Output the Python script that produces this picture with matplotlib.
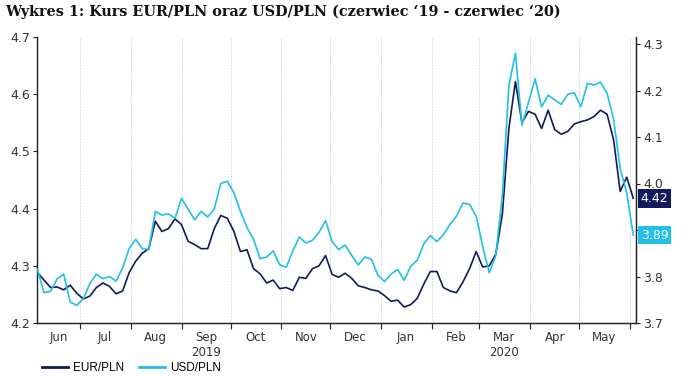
import matplotlib
matplotlib.use("Agg")
import matplotlib.pyplot as plt
import matplotlib.dates as mdates
import matplotlib.transforms as mtransforms
from matplotlib.lines import Line2D
import pandas as pd

# ---------------- data ----------------
start_date = "2019-06-05"
step_days = 4

eur_pln = [4.288, 4.275, 4.262, 4.263, 4.258, 4.266, 4.252, 4.242, 4.247, 4.262,
           4.270, 4.264, 4.251, 4.256, 4.288, 4.308, 4.322, 4.330, 4.378, 4.360,
           4.365, 4.382, 4.372, 4.343, 4.337, 4.330, 4.330, 4.365, 4.388, 4.383,
           4.360, 4.325, 4.328, 4.295, 4.286, 4.270, 4.275, 4.260, 4.262, 4.257,
           4.280, 4.278, 4.295, 4.300, 4.318, 4.285, 4.280, 4.287, 4.278, 4.265,
           4.262, 4.258, 4.256, 4.248, 4.238, 4.240, 4.228, 4.232, 4.243, 4.268,
           4.290, 4.290, 4.262, 4.256, 4.253, 4.272, 4.295, 4.325, 4.298, 4.300,
           4.320, 4.390, 4.540, 4.622, 4.550, 4.570, 4.565, 4.540, 4.572, 4.538,
           4.530, 4.535, 4.548, 4.552, 4.555, 4.561, 4.572, 4.565, 4.520, 4.430,
           4.455, 4.418]

usd_pln = [3.815, 3.765, 3.768, 3.795, 3.805, 3.745, 3.738, 3.752, 3.785, 3.805,
           3.795, 3.800, 3.790, 3.818, 3.860, 3.880, 3.860, 3.858, 3.940, 3.932,
           3.935, 3.925, 3.968, 3.945, 3.922, 3.940, 3.928, 3.945, 4.000, 4.005,
           3.980, 3.940, 3.905, 3.880, 3.838, 3.842, 3.855, 3.825, 3.820, 3.855,
           3.885, 3.872, 3.878, 3.895, 3.920, 3.875, 3.858, 3.868, 3.845, 3.825,
           3.842, 3.837, 3.803, 3.789, 3.805, 3.815, 3.792, 3.822, 3.835, 3.870,
           3.888, 3.875, 3.890, 3.912, 3.930, 3.958, 3.955, 3.930, 3.865, 3.808,
           3.845, 3.975, 4.210, 4.280, 4.125, 4.175, 4.225, 4.165, 4.190, 4.180,
           4.170, 4.192, 4.195, 4.165, 4.215, 4.212, 4.218, 4.194, 4.138, 4.032,
           3.980, 3.889]

month_labels = ["Jun", "Jul", "Aug", "Sep", "Oct", "Nov", "Dec",
                "Jan", "Feb", "Mar", "Apr", "May"]
year_labels = {"Sep": "2019", "Mar": "2020"}
left_ticks = [4.2, 4.3, 4.4, 4.5, 4.6, 4.7]
right_ticks = [3.7, 3.8, 3.9, 4.0, 4.1, 4.2, 4.3]

series_names = ["EUR/PLN", "USD/PLN"]
title = "Wykres 1: Kurs EUR/PLN oraz USD/PLN (czerwiec \u201819 - czerwiec \u201820)"

# ---------------- style ----------------
navy = "#111b5b"
cyan = "#22bfea"
txt_col = "#333333"

dates = pd.date_range(start_date, periods=len(eur_pln), freq=f"{step_days}D")

fig = plt.figure(figsize=(6.96, 3.76), dpi=100)
ax = fig.add_axes([37 / 696, 1 - 323 / 376, (636 - 37) / 696, (323 - 37) / 376])
ax2 = ax.twinx()

ax.plot(dates, eur_pln, color=navy, lw=1.2, zorder=3)
ax2.plot(dates, usd_pln, color=cyan, lw=1.2, zorder=3)

x0 = mdates.date2num(pd.Timestamp("2019-06-04 17:00"))
x1 = mdates.date2num(pd.Timestamp("2020-06-04 16:00"))
ax.set_xlim(x0, x1)
ax.set_ylim(4.2, 4.7)
ax2.set_ylim(3.7, 3.7 + 286 / 465)

# month boundaries
month_starts = pd.date_range("2019-07-01", "2020-06-01", freq="MS")
ax.set_xticks(mdates.date2num(month_starts))
ax.set_xticklabels([""] * len(month_starts))
for ms in month_starts:
    ax.axvline(mdates.date2num(ms), color="#d4d4d4", lw=0.7, ls=(0, (1.5, 1.5)), zorder=1)

# month labels centered in each month
mids = [pd.Timestamp("2019-06-18")] + [ms + pd.Timedelta(days=15) for ms in month_starts[:-1]]
labels = [m + ("\n" + year_labels[m] if m in year_labels else "") for m in month_labels]
ax.set_xticks(mdates.date2num(mids), minor=True)
ax.set_xticklabels(labels, minor=True)
ax.tick_params(axis="x", which="minor", length=0, pad=6, labelsize=8.5, labelcolor=txt_col)
ax.tick_params(axis="x", which="major", length=4, width=0.8, direction="out", color="#222222")

ax.set_yticks(left_ticks)
ax.set_yticklabels([f"{v:.1f}" for v in left_ticks])
ax2.set_yticks(right_ticks)
ax2.set_yticklabels([f"{v:.1f}" for v in right_ticks])
ax.tick_params(axis="y", length=3, width=0.8, labelsize=9, labelcolor=txt_col, pad=2, color="#222222")
ax2.tick_params(axis="y", length=3, width=0.8, labelsize=9, labelcolor=txt_col, pad=2, color="#222222")

for a in (ax, ax2):
    a.spines["top"].set_visible(False)
    for s in ("left", "right", "bottom"):
        a.spines[s].set_color("#222222")
        a.spines[s].set_linewidth(0.9)
ax.spines["left"].set_color("#555555")

# end value labels
tr_eur = mtransforms.blended_transform_factory(ax2.transAxes, ax.transData)
tr_usd = mtransforms.blended_transform_factory(ax2.transAxes, ax2.transData)
ax2.text(1.008, eur_pln[-1], f"{eur_pln[-1]:.2f}", transform=tr_eur, color="white",
         fontsize=9, va="center", ha="left", zorder=10, clip_on=False,
         bbox=dict(boxstyle="square,pad=0.22", fc=navy, ec="none"))
ax2.text(1.008, usd_pln[-1], f"{usd_pln[-1]:.2f}", transform=tr_usd, color="white",
         fontsize=9, va="center", ha="left", zorder=10, clip_on=False,
         bbox=dict(boxstyle="square,pad=0.22", fc=cyan, ec="none"))

# title
fig.text(5 / 696, 1 - 12 / 376, title, fontsize=10.4, fontweight="bold",
         family="DejaVu Serif", va="center", ha="left", color="#111111")

# legend
handles = [Line2D([], [], color=navy, lw=2), Line2D([], [], color=cyan, lw=2)]
fig.legend(handles, series_names, loc="center left", bbox_to_anchor=(0.045, 1 - 368 / 376),
           ncol=2, frameon=False, handlelength=2.2, handletextpad=0.4,
           columnspacing=1.3, prop={"family": "Liberation Sans", "size": 8.5})

fig.savefig("out.png", dpi=100)
